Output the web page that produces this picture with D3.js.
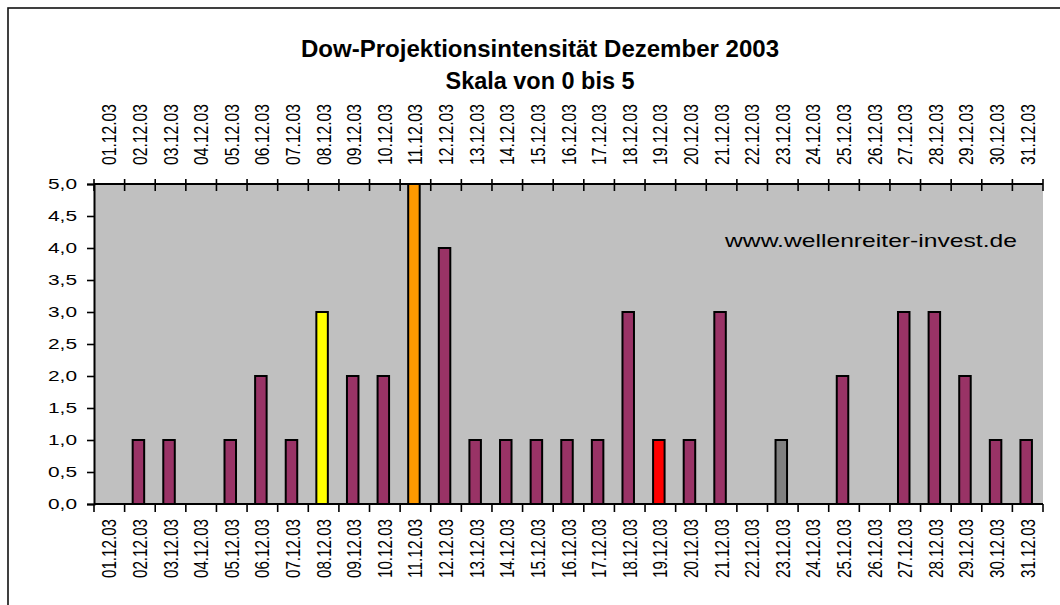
<!DOCTYPE html>
<html lang="de">

<head>
    <meta charset="utf-8">
    <title>Dow-Projektionsintensität Dezember 2003</title>
    <script type="text/javascript" src="https://d3js.org/d3.v7.min.js"></script>
    <style type="text/css">
        body {
            margin: 0;
            background: #ffffff;
        }

        svg text {
            font-family: "Liberation Sans", Arial, sans-serif;
            fill: #000000;
        }

        .axis path,
        .axis line {
            fill: none;
            stroke: black;
        }
    </style>
</head>

<body>
    <script type="text/javascript">

        // data
        var days = ["01.12.03", "02.12.03", "03.12.03", "04.12.03", "05.12.03", "06.12.03",
            "07.12.03", "08.12.03", "09.12.03", "10.12.03", "11.12.03", "12.12.03",
            "13.12.03", "14.12.03", "15.12.03", "16.12.03", "17.12.03", "18.12.03",
            "19.12.03", "20.12.03", "21.12.03", "22.12.03", "23.12.03", "24.12.03",
            "25.12.03", "26.12.03", "27.12.03", "28.12.03", "29.12.03", "30.12.03",
            "31.12.03"];
        var intensity = [0, 1, 1, 0, 1, 2, 1, 3, 2, 2, 5, 4, 1, 1, 1, 1, 1, 3,
            1, 1, 3, 0, 1, 0, 2, 0, 3, 3, 2, 1, 1];
        var highlight = {
            "08.12.03": "#ffff00",
            "11.12.03": "#ff9900",
            "19.12.03": "#ff0000",
            "23.12.03": "#808080"
        };
        var yTicks = [0, 0.5, 1, 1.5, 2, 2.5, 3, 3.5, 4, 4.5, 5];
        var titleLines = ["Dow-Projektionsintensität Dezember 2003", "Skala von 0 bis 5"];
        var watermark = "www.wellenreiter-invest.de";

        // global constants
        var W = 1060, H = 605;
        var margin = { top: 184, right: 17, bottom: 101, left: 94 };
        var w = W - margin.left - margin.right;
        var h = H - margin.top - margin.bottom;
        var barColor = "#993366";

        var svg = d3.select("body")
            .append("svg")
            .attr("width", W)
            .attr("height", H);

        // outer chart frame (runs off the right and bottom edge)
        svg.append("rect")
            .attr("x", 8)
            .attr("y", 8)
            .attr("width", W + 40)
            .attr("height", H + 40)
            .attr("fill", "none")
            .attr("stroke", "#111")
            .attr("stroke-width", 1.6);

        // title
        svg.selectAll(".title")
            .data(titleLines)
            .enter()
            .append("text")
            .attr("class", "title")
            .attr("x", 540)
            .attr("y", function (d, i) { return 57 + i * 32; })
            .attr("text-anchor", "middle")
            .style("font-weight", "bold")
            .style("font-size", "23px")
            .attr("textLength", function (d, i) { return i == 0 ? 478 : 189; })
            .attr("lengthAdjust", "spacingAndGlyphs")
            .text(function (d) { return d; });

        var g = svg.append("g")
            .attr("transform", "translate(" + margin.left + "," + margin.top + ")");

        // scales
        var xScale = d3.scaleBand()
            .domain(days)
            .range([0, w]);

        var yScale = d3.scaleLinear()
            .domain([0, 5])
            .range([h, 0]);

        // plot area
        g.append("rect")
            .attr("width", w)
            .attr("height", h)
            .attr("fill", "#c0c0c0");

        // watermark
        g.append("text")
            .attr("x", w - 318)
            .attr("y", yScale(4) - 1)
            .style("font-size", "19px")
            .attr("textLength", 292)
            .attr("lengthAdjust", "spacingAndGlyphs")
            .text(watermark);

        // bars (days with value 0 get no bar)
        var barData = days.map(function (d, i) {
            return { day: d, value: intensity[i] };
        }).filter(function (d) { return d.value > 0; });

        var barW = 11.5;
        g.selectAll(".bar")
            .data(barData)
            .enter()
            .append("rect")
            .attr("class", "bar")
            .attr("x", function (d) {
                return xScale(d.day) + (xScale.bandwidth() - barW) / 2 - 1.5;
            })
            .attr("y", function (d) { return yScale(d.value); })
            .attr("width", barW)
            .attr("height", function (d) { return h - yScale(d.value); })
            .attr("fill", function (d) { return highlight[d.day] || barColor; })
            .attr("stroke", "#000")
            .attr("stroke-width", 2);

        // band boundaries for the category ticks
        var bounds = days.map(function (d) { return xScale(d); }).concat([w]);

        // bottom axis
        var bottomAxis = g.append("g")
            .attr("class", "axis")
            .attr("transform", "translate(0," + h + ")");
        bottomAxis.selectAll("line")
            .data(bounds)
            .enter()
            .append("line")
            .attr("x1", function (d) { return d; })
            .attr("x2", function (d) { return d; })
            .attr("y1", 0)
            .attr("y2", 8)
            .attr("stroke-width", 1.6);
        bottomAxis.append("line")
            .attr("x1", 0)
            .attr("x2", w)
            .attr("stroke-width", 2);
        bottomAxis.selectAll("text")
            .data(days)
            .enter()
            .append("text")
            .attr("transform", function (d) {
                return "translate(" + (xScale(d) + xScale.bandwidth() / 2) + ",15) rotate(-90)";
            })
            .attr("dy", "0.35em")
            .attr("text-anchor", "end")
            .style("font-size", "20px")
            .attr("textLength", 59)
            .attr("lengthAdjust", "spacingAndGlyphs")
            .text(function (d) { return d; });

        // top axis
        var topAxis = g.append("g")
            .attr("class", "axis");
        topAxis.selectAll("line")
            .data(bounds)
            .enter()
            .append("line")
            .attr("x1", function (d) { return d; })
            .attr("x2", function (d) { return d; })
            .attr("y1", -5)
            .attr("y2", 7)
            .attr("stroke-width", 1.6);
        topAxis.append("line")
            .attr("x1", 0)
            .attr("x2", w)
            .attr("stroke-width", 2);
        topAxis.selectAll("text")
            .data(days)
            .enter()
            .append("text")
            .attr("transform", function (d) {
                return "translate(" + (xScale(d) + xScale.bandwidth() / 2) + ",-19) rotate(-90)";
            })
            .attr("dy", "0.35em")
            .attr("text-anchor", "start")
            .style("font-size", "20px")
            .attr("textLength", 61)
            .attr("lengthAdjust", "spacingAndGlyphs")
            .text(function (d) { return d; });

        // y axis
        var yAxis = d3.axisLeft(yScale)
            .tickValues(yTicks)
            .tickSize(7)
            .tickPadding(10)
            .tickFormat(function (d) { return d3.format(".1f")(d).replace(".", ","); });

        var yg = g.append("g")
            .attr("class", "axis")
            .call(yAxis);
        yg.select(".domain").attr("stroke-width", 2);
        yg.selectAll(".tick line").attr("stroke-width", 1.6);
        yg.selectAll(".tick text")
            .attr("font-family", null)
            .attr("font-size", null)
            .style("font-size", "15px")
            .attr("textLength", 29)
            .attr("lengthAdjust", "spacingAndGlyphs");
    </script>
</body>
</html>
